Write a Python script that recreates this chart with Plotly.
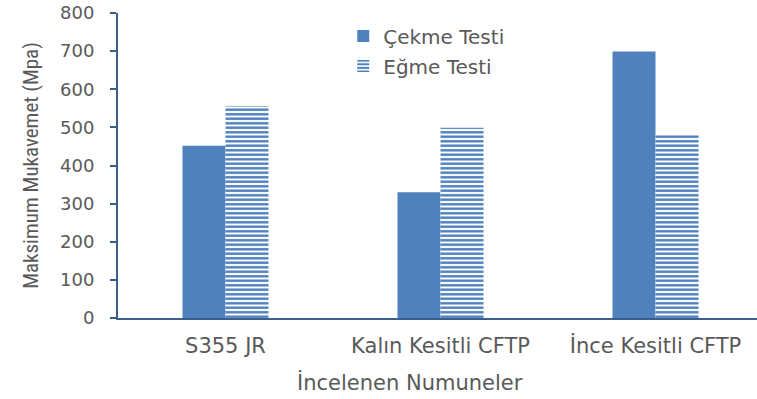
import plotly.graph_objects as go

categories = ["S355 JR", "Kalın Kesitli CFTP", "İnce Kesitli CFTP"]
cekme_testi = [452, 330, 699]
egme_testi = [556, 499, 482]
y_ticks = [0, 100, 200, 300, 400, 500, 600, 700, 800]
x_title = "İncelenen Numuneler"
y_title = "Maksimum Mukavemet (Mpa)"

bar_color = "#4F81BD"
axis_color = "#3B5E8C"
text_color = "#595959"

fig = go.Figure()
fig.add_trace(go.Bar(
    name="Çekme Testi", x=categories, y=cekme_testi,
    marker=dict(color=bar_color, line=dict(width=0)),
    legend="legend", showlegend=True,
))
fig.add_trace(go.Bar(
    name="Eğme Testi", x=categories, y=egme_testi,
    marker=dict(
        color="white",
        line=dict(width=0),
        pattern=dict(shape="-", fgcolor=bar_color, bgcolor="white",
                     size=4.5, solidity=0.55, fillmode="replace"),
    ),
    legend="legend2", showlegend=True,
))

legend_style = dict(
    bgcolor="rgba(0,0,0,0)",
    font=dict(family="DejaVu Sans", size=20, color=text_color),
    xanchor="left", yanchor="middle",
    itemwidth=30,
)

fig.update_layout(
    width=757, height=399,
    margin=dict(l=118, r=0, t=13, b=81),
    plot_bgcolor="white", paper_bgcolor="white",
    barmode="group",
    bargap=0.6, bargroupgap=0,
    showlegend=True,
    legend=dict(x=0.3525, y=0.925, xref="paper", yref="paper", **legend_style),
    legend2=dict(x=0.3525, y=0.826, xref="paper", yref="paper", **legend_style),
    xaxis=dict(
        range=[-0.5, 2.472],
        showline=True, linecolor=axis_color, linewidth=2,
        ticks="", showgrid=False,
        ticklabelstandoff=8,
        tickfont=dict(family="DejaVu Sans", size=21, color=text_color),
    ),
    yaxis=dict(
        range=[0, 800],
        tickvals=y_ticks,
        showline=True, linecolor=axis_color, linewidth=2,
        ticks="outside", ticklen=6, tickwidth=2, tickcolor=axis_color,
        ticklabelstandoff=12,
        showgrid=False, zeroline=False,
        tickfont=dict(family="DejaVu Sans", size=18, color=text_color),
        title=dict(text=y_title, standoff=16,
                   font=dict(family="Liberation Sans Narrow, Roboto Condensed, Liberation Sans",
                             size=21, color=text_color)),
    ),
    annotations=[dict(
        text=x_title, xref="paper", yref="paper",
        x=0.457, y=-0.21, xanchor="center", yanchor="middle",
        showarrow=False,
        font=dict(family="DejaVu Sans", size=21, color=text_color),
    )],
)

fig.write_html("out.html")
